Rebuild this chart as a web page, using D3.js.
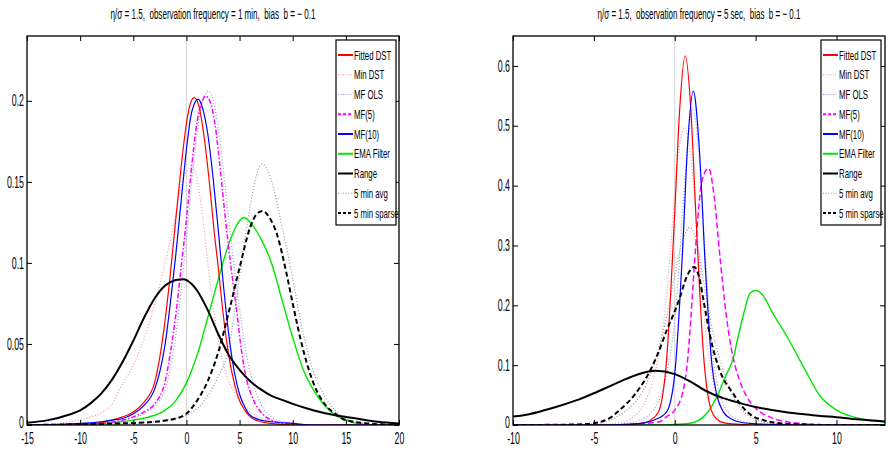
<!DOCTYPE html>
<html>
<head>
<meta charset="utf-8">
<script src="https://cdn.jsdelivr.net/npm/d3@7"></script>
<style>
  body { margin: 0; background: #fff; }
  text { font-family: "Liberation Sans", Arial, sans-serif; fill: #000; }
  .title { white-space: pre; }
</style>
</head>
<body>
<svg id="chart" width="896" height="464"></svg>
<script>
// legend names, same order in both panels
var seriesNames = ["Fitted DST", "Min DST", "MF OLS", "MF(5)", "MF(10)", "EMA Filter", "Range", "5 min avg", "5 min sparse"];

// ---- left panel: observation frequency = 1 min ----
var xTicksL = [-15, -10, -5, 0, 5, 10, 15, 20];
var yTicksL = [0, 0.05, 0.1, 0.15, 0.2];
var fitDstL = [[-15,0],[-10,0.0005],[-8,0.0015],[-7,0.003],[-6,0.005],[-5,0.008],[-4,0.014],[-3,0.026],[-2.5,0.042],[-2,0.065],[-1.5,0.094],[-1,0.127],[-0.5,0.159],[0,0.186],[0.4,0.199],[0.75,0.202],[1.2,0.196],[1.7,0.176],[2.2,0.147],[2.6,0.12],[3,0.097],[3.5,0.066],[4,0.042],[4.5,0.026],[5,0.015],[5.5,0.009],[6,0.005],[7,0.002],[8,0.001],[10,0],[20,0]];
var minDstL = [[-15,0],[-13,0.0005],[-12,0.001],[-11,0.002],[-10,0.003],[-9,0.005],[-8,0.0075],[-7,0.013],[-6.2,0.023],[-5,0.037],[-4,0.053],[-2.8,0.079],[-2,0.1],[-1,0.13],[-0.3,0.152],[0.5,0.159],[1,0.152],[1.5,0.13],[2.2,0.089],[2.8,0.06],[3.5,0.037],[4.5,0.02],[5.5,0.011],[6.5,0.006],[8,0.003],[10,0.001],[12,0],[20,0]];
var mfOlsL = [[-15,0],[-10,0.0005],[-8,0.001],[-6,0.003],[-4,0.007],[-3,0.012],[-2,0.022],[-1.5,0.035],[-1,0.055],[-0.5,0.083],[0,0.115],[0.5,0.15],[1,0.18],[1.5,0.2],[2.1,0.206],[2.6,0.198],[3.1,0.178],[3.6,0.15],[4.1,0.12],[4.6,0.092],[5.1,0.067],[5.6,0.045],[6.1,0.03],[7,0.013],[8,0.005],[9,0.002],[11,0],[20,0]];
var mf5L = [[-15,0],[-10,0.0005],[-8,0.001],[-6,0.003],[-5,0.005],[-4,0.008],[-3,0.013],[-2,0.027],[-1.5,0.045],[-1,0.068],[-0.5,0.097],[0,0.127],[0.5,0.16],[1,0.187],[1.5,0.2],[1.8,0.203],[2.2,0.2],[2.7,0.185],[3.2,0.157],[3.7,0.125],[4.2,0.097],[4.7,0.072],[5.2,0.045],[5.7,0.027],[6.2,0.017],[7,0.008],[8,0.003],[9,0.001],[11,0],[20,0]];
var mf10L = [[-15,0],[-10,0.001],[-8,0.002],[-7,0.003],[-6,0.004],[-5,0.007],[-4,0.012],[-3,0.022],[-2.5,0.033],[-2,0.05],[-1.5,0.076],[-1,0.105],[-0.5,0.138],[0,0.17],[0.4,0.19],[0.8,0.199],[1.1,0.201],[1.5,0.196],[2,0.18],[2.5,0.153],[3,0.12],[3.5,0.085],[4,0.055],[4.5,0.033],[5,0.019],[5.5,0.011],[6,0.006],[7,0.003],[8,0.002],[10,0.001],[12,0],[20,0]];
var emaL = [[-15,0],[-10,0.0005],[-8,0.001],[-5,0.003],[-3,0.006],[-2,0.009],[-1,0.015],[0,0.026],[1,0.043],[2,0.066],[3,0.09],[4,0.112],[5,0.126],[5.4,0.128],[6,0.125],[7,0.115],[8,0.1],[9,0.077],[10,0.054],[11,0.034],[12,0.021],[13,0.012],[14,0.006],[15,0.003],[16,0.001],[18,0],[20,0]];
var rangeL = [[-15,0.0014],[-13,0.003],[-11,0.0065],[-10,0.009],[-9,0.0135],[-8,0.0195],[-7,0.028],[-6,0.039],[-5,0.052],[-4,0.066],[-3,0.078],[-2,0.086],[-1,0.0895],[-0.3,0.09],[0.5,0.087],[1,0.083],[2,0.071],[3,0.056],[4,0.043],[5,0.034],[6,0.027],[7,0.022],[8,0.018],[9,0.0155],[10,0.013],[12,0.009],[14,0.006],[16,0.004],[18,0.002],[20,0.001]];
var avg5L = [[-15,0],[-8,0.0005],[-5,0.001],[-2,0.003],[0,0.006],[1,0.01],[2,0.018],[3,0.03],[4,0.048],[4.5,0.068],[5,0.092],[5.5,0.115],[6,0.135],[6.5,0.152],[7.1,0.161],[7.6,0.158],[8.2,0.146],[9,0.122],[9.5,0.107],[10,0.09],[11,0.056],[12,0.032],[13,0.018],[14,0.009],[15,0.004],[16,0.002],[18,0],[20,0]];
var sparse5L = [[-15,0],[-6,0.001],[-3,0.002],[-1,0.004],[0,0.007],[1,0.015],[2,0.027],[3,0.045],[4,0.07],[5,0.097],[6,0.122],[6.6,0.13],[7.2,0.132],[7.8,0.128],[8.5,0.118],[9.4,0.094],[10,0.075],[11,0.046],[12,0.025],[13,0.013],[14,0.007],[15,0.003],[17,0.001],[20,0]];

// ---- right panel: observation frequency = 5 sec ----
var xTicksR = [-10, -5, 0, 5, 10];
var yTicksR = [0, 0.1, 0.2, 0.3, 0.4, 0.5, 0.6];
var fitDstR = [[-10,0],[-3,0],[-2.5,0.001],[-2,0.003],[-1.5,0.008],[-1,0.022],[-0.5,0.11],[0,0.355],[0.3,0.525],[0.65,0.617],[1,0.525],[1.3,0.355],[1.8,0.11],[2.2,0.03],[2.6,0.01],[3,0.004],[4,0.001],[5,0],[13,0]];
var minDstR = [[-10,0],[-4.5,0.001],[-3.5,0.003],[-3,0.007],[-2.5,0.015],[-2,0.03],[-1.7,0.047],[-1.2,0.09],[-0.7,0.17],[-0.3,0.28],[0.1,0.42],[0.6,0.497],[1.1,0.42],[1.5,0.28],[1.9,0.16],[2.3,0.08],[2.8,0.035],[3.3,0.014],[4,0.005],[5,0.001],[6,0],[13,0]];
var mfOlsR = [[-10,0],[-4,0.001],[-3,0.003],[-2,0.01],[-1.5,0.02],[-1,0.04],[-0.5,0.085],[0,0.175],[0.5,0.36],[0.8,0.47],[1.1,0.53],[1.5,0.45],[1.9,0.28],[2.3,0.13],[2.7,0.06],[3.2,0.025],[4,0.008],[5,0.002],[6,0],[13,0]];
var mf5R = [[-10,0],[-4,0],[-3,0.001],[-1,0.005],[-0.5,0.014],[0,0.025],[0.5,0.055],[0.8,0.11],[1,0.18],[1.3,0.3],[1.7,0.41],[2.1,0.429],[2.4,0.39],[2.8,0.28],[3.2,0.18],[3.6,0.114],[4,0.075],[4.5,0.045],[5,0.028],[6,0.012],[7,0.005],[8,0.002],[9,0],[13,0]];
var mf10R = [[-10,0],[-4,0],[-3,0.001],[-2,0.003],[-1.3,0.008],[-0.5,0.022],[0,0.085],[0.5,0.3],[0.8,0.47],[1.15,0.558],[1.5,0.47],[1.9,0.26],[2.3,0.1],[2.6,0.05],[3,0.022],[3.5,0.01],[4,0.005],[5,0.002],[6,0.001],[8,0],[13,0]];
var emaR = [[-10,0],[-1,0],[0,0.001],[1,0.003],[1.5,0.008],[2,0.02],[2.6,0.047],[3.2,0.085],[3.6,0.11],[3.9,0.145],[4.3,0.19],[4.65,0.22],[5,0.225],[5.5,0.215],[6,0.19],[7,0.145],[8,0.095],[9,0.048],[10,0.025],[11,0.014],[12,0.008],[13,0.005]];
var rangeR = [[-10,0.014],[-9,0.018],[-8,0.025],[-7,0.033],[-6,0.042],[-5,0.053],[-4,0.065],[-3,0.077],[-2,0.087],[-1.2,0.0905],[0,0.085],[1,0.072],[2,0.056],[3,0.045],[4,0.037],[5,0.03],[6,0.025],[7,0.021],[8,0.018],[9,0.015],[10,0.013],[11,0.01],[12,0.008],[13,0.006]];
var avg5R = [[-10,0],[-6,0.001],[-5,0.002],[-4.5,0.004],[-4,0.008],[-3.5,0.015],[-3,0.024],[-2.5,0.037],[-2,0.055],[-1.5,0.085],[-1,0.128],[-0.5,0.18],[0,0.25],[0.5,0.31],[0.95,0.33],[1.4,0.3],[1.9,0.22],[2.4,0.15],[2.8,0.108],[3.4,0.06],[4,0.03],[4.7,0.013],[5.5,0.005],[6.5,0.002],[8,0],[13,0]];
var sparse5R = [[-10,0],[-7,0.0005],[-6,0.001],[-5,0.003],[-4.5,0.006],[-4,0.012],[-3.4,0.025],[-2.5,0.05],[-1.5,0.092],[-1,0.122],[-0.5,0.158],[0,0.19],[0.33,0.214],[0.7,0.245],[1.2,0.264],[1.5,0.248],[1.8,0.205],[2.2,0.147],[2.8,0.09],[3.6,0.053],[4.2,0.03],[4.7,0.017],[5.5,0.008],[6.5,0.003],[8,0.001],[10,0],[13,0]];

// line styles, one per legend entry
function styles(mf5dash) {
  return [
    { color: "#ff0000", width: 1.2, dash: null,   lw: 2 },
    { color: "#f09a9a", width: 1.2, dash: "1,2",  lw: 1.2 },
    { color: "#9a9ad6", width: 1.2, dash: "1,2",  lw: 1.2 },
    { color: "#ff00ff", width: 1.5, dash: mf5dash, lw: 2 },
    { color: "#0000ff", width: 1.2, dash: null,   lw: 2 },
    { color: "#00e600", width: 1.4, dash: null,   lw: 2 },
    { color: "#000000", width: 2,   dash: null,   lw: 2 },
    { color: "#999999", width: 1.2, dash: "1,2",  lw: 1.2 },
    { color: "#000000", width: 2,   dash: "5,3",  lw: 2 }
  ];
}

var svg = d3.select("#chart");
var squeeze = 0.55; // reference text is strongly condensed

function drawPanel(p, idx) {
  var x = d3.scaleLinear().domain(p.xDomain).range([p.left, p.right]);
  var y = d3.scaleLinear().domain(p.yDomain).range([p.bottom, p.top]);
  var g = svg.append("g");

  g.append("clipPath").attr("id", "clip" + idx)
    .append("rect").attr("x", p.left).attr("y", p.top)
    .attr("width", p.right - p.left).attr("height", p.bottom - p.top);

  // true value marker at 0
  g.append("line")
    .attr("x1", x(0)).attr("x2", x(0)).attr("y1", y(0)).attr("y2", p.top)
    .attr("stroke", "#d4d4d4").attr("stroke-width", 1);

  var line = d3.line()
    .x(function(d) { return x(d[0]); })
    .y(function(d) { return y(d[1]); })
    .curve(d3.curveMonotoneX);

  var st = styles(p.mf5dash);
  var plotg = g.append("g").attr("clip-path", "url(#clip" + idx + ")");
  var order = [1, 2, 7, 5, 3, 0, 4, 8, 6];
  order.forEach(function(i) {
    plotg.append("path")
      .attr("d", line(p.series[i]))
      .attr("fill", "none")
      .attr("stroke", st[i].color)
      .attr("stroke-width", st[i].width)
      .attr("stroke-dasharray", st[i].dash)
      .attr("stroke-linejoin", "round");
  });

  // axes, ticks pointing inward like matlab
  var fmt = function(d) { return d === 0 ? "0" : String(d); };
  var xb = g.append("g").attr("transform", "translate(0," + p.bottom + ")")
    .call(d3.axisBottom(x).tickValues(p.xTicks).tickSize(-5).tickPadding(8).tickFormat(fmt));
  g.append("g").attr("transform", "translate(0," + p.top + ")")
    .call(d3.axisTop(x).tickValues(p.xTicks).tickSize(-5).tickFormat(""));
  var yl = g.append("g").attr("transform", "translate(" + p.left + ",0)")
    .call(d3.axisLeft(y).tickValues(p.yTicks).tickSize(-5).tickPadding(3).tickFormat(fmt));
  g.append("g").attr("transform", "translate(" + p.right + ",0)")
    .call(d3.axisRight(y).tickValues(p.yTicks).tickSize(-5).tickFormat(""));
  g.selectAll(".domain").remove();
  g.selectAll(".tick line").attr("stroke", "#000");

  xb.selectAll("text").attr("font-size", 16).attr("font-family", null)
    .attr("transform", "scale(" + squeeze + ",1)");
  yl.selectAll("text").attr("font-size", 16).attr("font-family", null)
    .attr("x", -3 / squeeze)
    .attr("dy", function(d) { return d === 0 ? "0.15em" : "0.32em"; })
    .attr("transform", "scale(" + squeeze + ",1)");

  g.append("rect")
    .attr("x", p.left).attr("y", p.top)
    .attr("width", p.right - p.left).attr("height", p.bottom - p.top)
    .attr("fill", "none").attr("stroke", "#000").attr("stroke-width", 1.3);

  // title, squeezed horizontally to the reference width
  var cx = (p.left + p.right) / 2;
  var t = g.append("text").attr("class", "title")
    .attr("text-anchor", "middle").attr("font-size", 15)
    .text(p.title);
  var natural = t.node().getComputedTextLength();
  t.attr("transform", "translate(" + cx + ",19) scale(" + (p.titleWidth / natural) + ",1)");

  // legend
  var lg = g.append("g").attr("transform", "translate(" + p.legendX + ",40)");
  lg.append("rect").attr("width", 60).attr("height", 185)
    .attr("fill", "#fff").attr("stroke", "#000").attr("stroke-width", 1.2);
  seriesNames.forEach(function(name, i) {
    var yy = 15 + i * 19.75;
    lg.append("line").attr("x1", 2).attr("x2", 17).attr("y1", yy).attr("y2", yy)
      .attr("stroke", st[i].color).attr("stroke-width", st[i].lw)
      .attr("stroke-dasharray", st[i].dash === "1,2" ? "1,1.5" : (st[i].dash ? "3,2" : null));
    lg.append("text")
      .attr("transform", "translate(18," + (yy + 4.5) + ") scale(0.6,1)")
      .attr("font-size", 13).text(name);
  });
}

var panels = [
  { left: 27, right: 399, top: 36, bottom: 425, xDomain: [-15, 20], yDomain: [0, 0.24],
    xTicks: xTicksL, yTicks: yTicksL, legendX: 336, mf5dash: "5,2,1.5,2", titleWidth: 205,
    title: "\u03b7/\u03c3 = 1.5,  observation frequency = 1 min,  bias  b = \u2212 0.1",
    series: [fitDstL, minDstL, mfOlsL, mf5L, mf10L, emaL, rangeL, avg5L, sparse5L] },
  { left: 513, right: 885, top: 36, bottom: 425, xDomain: [-10, 13], yDomain: [0, 0.65],
    xTicks: xTicksR, yTicks: yTicksR, legendX: 821, mf5dash: "6,3", titleWidth: 203,
    title: "\u03b7/\u03c3 = 1.5,  observation frequency = 5 sec,  bias  b = \u2212 0.1",
    series: [fitDstR, minDstR, mfOlsR, mf5R, mf10R, emaR, rangeR, avg5R, sparse5R] }
];
panels.forEach(drawPanel);
</script>
</body>
</html>
